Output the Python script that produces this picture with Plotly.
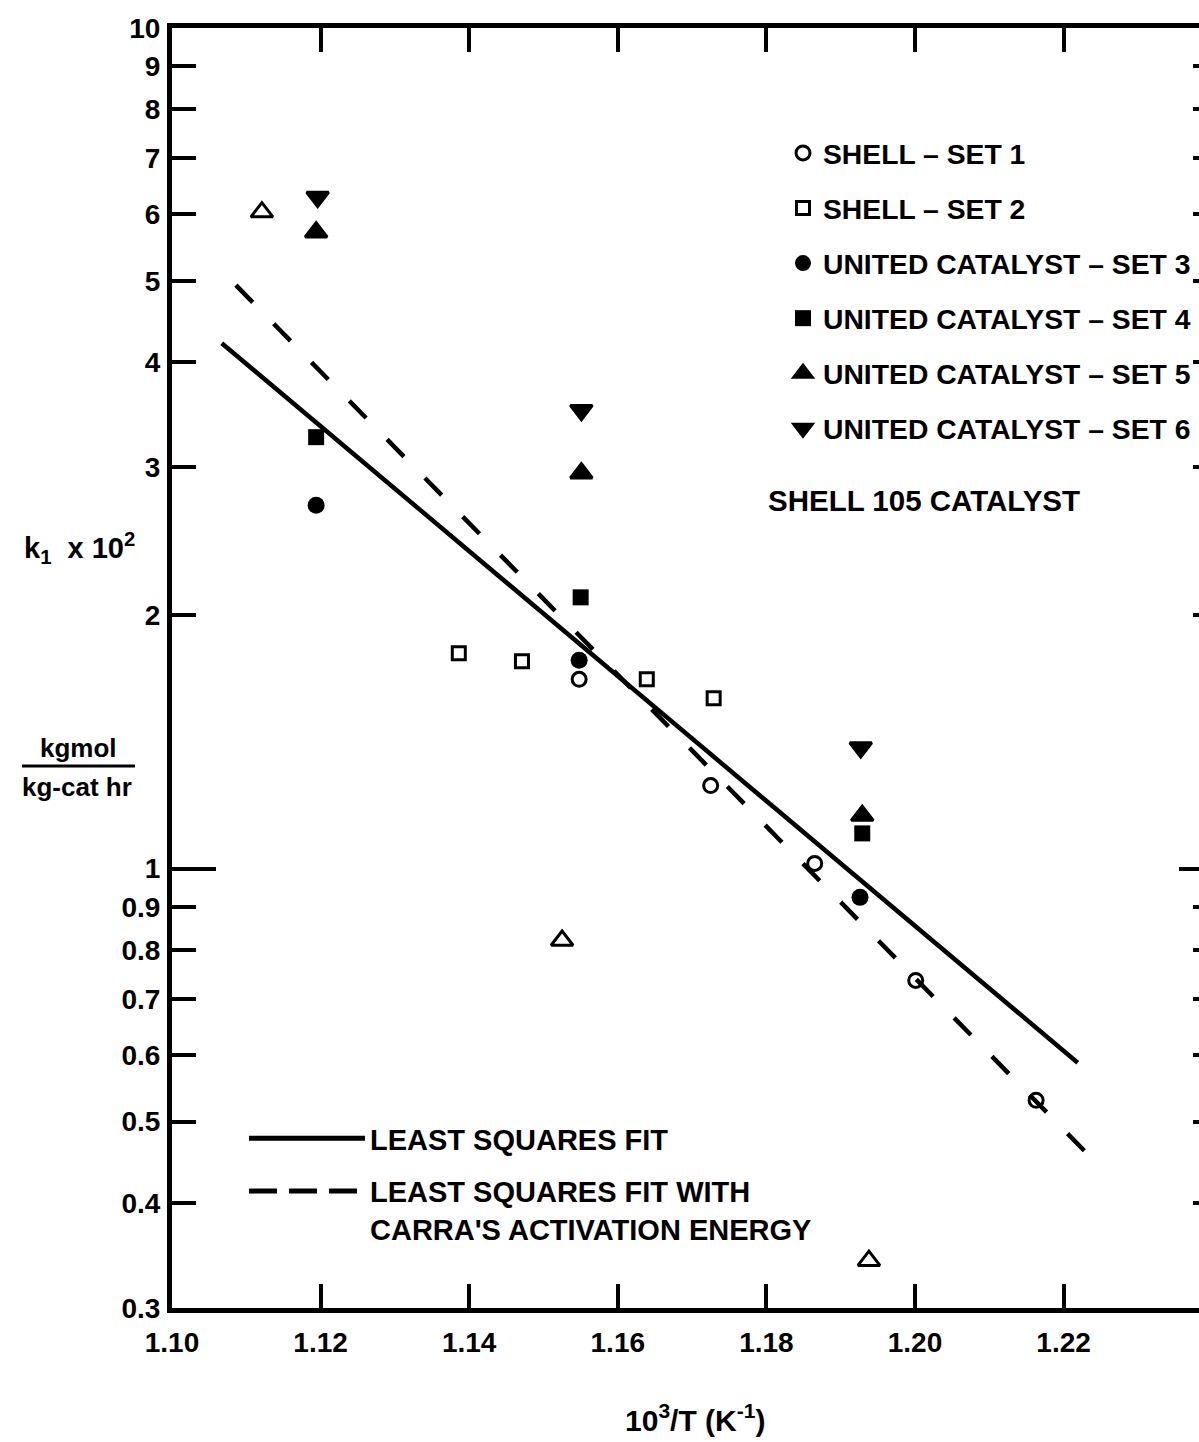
import numpy as np
import plotly.graph_objects as go

# 10^3/T (1/K) and k1 x 10^2 (kgmol / kg-cat hr) for each catalyst run
set1_x = [1.1548, 1.1725, 1.1865, 1.2001, 1.2163]
set1_k = [1.679, 1.255, 1.014, 0.736, 0.530]

set2_x = [1.1386, 1.1471, 1.1639, 1.1729]
set2_k = [1.803, 1.764, 1.679, 1.594]

set3_x = [1.1194, 1.1548, 1.1926]
set3_k = [2.705, 1.769, 0.924]

set4_x = [1.1194, 1.1550, 1.1929]
set4_k = [3.260, 2.102, 1.101]

set5_x = [1.1194, 1.1551, 1.1929]
set5_k = [5.716, 2.953, 1.156]

set6_x = [1.1196, 1.1551, 1.1927]
set6_k = [6.293, 3.510, 1.393]

shell105_x = [1.1121, 1.1525, 1.1938]
shell105_k = [6.039, 0.821, 0.3415]

# fitted Arrhenius lines (end points)
fit_x = [1.1067, 1.2219]
fit_k = [4.217, 0.5875]
carra_x = [1.1086, 1.2245]
carra_k = [4.943, 0.4455]

x_ticks = [1.10, 1.12, 1.14, 1.16, 1.18, 1.20, 1.22]
x_labels = ["1.10", "1.12", "1.14", "1.16", "1.18", "1.20", "1.22"]
y_ticks = [0.3, 0.4, 0.5, 0.6, 0.7, 0.8, 0.9, 1, 2, 3, 4, 5, 6, 7, 8, 9, 10]
y_labels = ["0.3", "0.4", "0.5", "0.6", "0.7", "0.8", "0.9", "1",
            "2", "3", "4", "5", "6", "7", "8", "9", "10"]

FONT = "Liberation Sans, Arial, sans-serif"
W, H = 1199, 1442
L, T, B = 172, 28, 1308          # plot box in page pixels
PW, PH = W - L, B - T


def px(x):
    return (x - L) / PW


def py(y):
    return (B - y) / PH


fig = go.Figure()

marker_sets = [
    (set1_x, set1_k, "SHELL – SET 1", dict(symbol="circle-open", size=14, color="black", line=dict(width=3, color="black"))),
    (set2_x, set2_k, "SHELL – SET 2", dict(symbol="square-open", size=13, color="black", line=dict(width=3, color="black"))),
    (set3_x, set3_k, "UNITED CATALYST – SET 3", dict(symbol="circle", size=17, color="black")),
    (set4_x, set4_k, "UNITED CATALYST – SET 4", dict(symbol="square", size=16, color="black")),
    (set5_x, set5_k, "UNITED CATALYST – SET 5", dict(symbol="triangle-up", size=19, color="black", line=dict(width=3, color="black"))),
    (set6_x, set6_k, "UNITED CATALYST – SET 6", dict(symbol="triangle-down", size=19, color="black", line=dict(width=3, color="black"))),
]
for i, (xs, ks, name, mk) in enumerate(marker_sets):
    fig.add_trace(go.Scatter(x=xs, y=ks, mode="markers", name=name, marker=mk,
                             legendgroup=f"g{i}", legend="legend"))

fig.add_trace(go.Scatter(x=shell105_x, y=shell105_k, mode="markers", name="SHELL 105 CATALYST",
                         marker=dict(symbol="triangle-up-open", size=19, color="black",
                                     line=dict(width=3, color="black")),
                         showlegend=False))

fig.add_trace(go.Scatter(x=fit_x, y=fit_k, mode="lines", name="LEAST SQUARES FIT",
                         line=dict(color="black", width=4.5), showlegend=False, legendgroup="fit"))
fig.add_trace(go.Scatter(x=carra_x, y=carra_k, mode="lines",
                         name="LEAST SQUARES FIT WITH<br>CARRA'S ACTIVATION ENERGY",
                         line=dict(color="black", width=4.5, dash="24px,30px"),
                         showlegend=False, legendgroup="carra"))

# legend entries for the two fitted lines
fig.add_trace(go.Scatter(x=[None], y=[None], mode="lines", name="LEAST SQUARES FIT",
                         line=dict(color="black", width=5), legend="legend2", legendgroup="fit"))
fig.add_trace(go.Scatter(x=[None], y=[None], mode="lines",
                         name="LEAST SQUARES FIT WITH<br>CARRA'S ACTIVATION ENERGY",
                         line=dict(color="black", width=5, dash="28px,12px"),
                         legend="legend2", legendgroup="carra"))

axis_common = dict(showgrid=False, zeroline=False, ticks="inside", tickcolor="black",
                   linecolor="black")

fig.update_layout(
    width=W, height=H,
    margin=dict(l=L, r=W - L - PW, t=T, b=H - B, pad=0),
    paper_bgcolor="white", plot_bgcolor="white",
    font=dict(family=FONT, color="black"),
    xaxis=dict(range=[1.10, 1.10 + PW / 7430], tickvals=x_ticks, ticktext=x_labels,
               ticklen=24, tickwidth=4, showline=True, linewidth=5, mirror="ticks",
               tickfont=dict(size=28, weight="bold"), ticklabelstandoff=5, **axis_common),
    yaxis=dict(type="log", range=[np.log10(0.3), 1], tickvals=y_ticks, ticktext=y_labels,
               ticklen=24, tickwidth=4, showline=True, linewidth=5, mirror=False,
               tickfont=dict(size=28, weight="bold"), ticklabelstandoff=1, **axis_common),
    # long tick at 1 on the left
    yaxis3=dict(type="log", range=[np.log10(0.3), 1], overlaying="y", anchor="x", side="left",
                tickvals=[1], ticklen=44, tickwidth=4, showticklabels=False, showline=False,
                **axis_common),
    # ticks on the right-hand frame
    yaxis2=dict(type="log", range=[np.log10(0.3), 1], overlaying="y", anchor="x", side="right",
                tickvals=[1], ticklen=20, tickwidth=4, showticklabels=False, showline=False,
                minor=dict(tickvals=[v for v in y_ticks if v != 1], ticklen=6, tickwidth=4,
                           ticks="inside", tickcolor="black", showgrid=False),
                **axis_common),
    legend=dict(x=px(783), y=py(128), xanchor="left", yanchor="top",
                bgcolor="rgba(0,0,0,0)", borderwidth=0, tracegroupgap=15.3,
                font=dict(size=28.3, weight="bold", family=FONT), itemsizing="trace"),
    legend2=dict(x=px(244), y=py(1113), xanchor="left", yanchor="top",
                 bgcolor="rgba(0,0,0,0)", borderwidth=0, tracegroupgap=12, itemwidth=116,
                 valign="top", font=dict(size=29, weight="bold", family=FONT)),
    showlegend=True,
)

# a hidden trace on each overlay axis so they get drawn
fig.add_trace(go.Scatter(x=[None], y=[None], yaxis="y2", showlegend=False, hoverinfo="skip"))
fig.add_trace(go.Scatter(x=[None], y=[None], yaxis="y3", showlegend=False, hoverinfo="skip"))

annotations = [
    dict(text="SHELL 105 CATALYST", x=px(766), y=py(500), xanchor="left", yanchor="middle",
         font=dict(size=29.5, weight="bold")),
    dict(text="k<sub>1</sub>  x 10<sup>2</sup>", x=px(22), y=py(548), xanchor="left", yanchor="middle",
         font=dict(size=29, weight="bold")),
    dict(text="kgmol", x=px(78), y=py(748), xanchor="center", yanchor="middle",
         font=dict(size=26, weight="bold")),
    dict(text="kg-cat hr", x=px(77), y=py(787), xanchor="center", yanchor="middle",
         font=dict(size=26, weight="bold")),
    dict(text="10<sup>3</sup>/T (K<sup>-1</sup>)", x=px(695), y=py(1418), xanchor="center",
         yanchor="middle", font=dict(size=30, weight="bold")),
]
for a in annotations:
    fig.add_annotation(xref="paper", yref="paper", showarrow=False, **a)

# fraction bar of the units label
fig.add_shape(type="line", xref="paper", yref="paper", x0=px(22), x1=px(135),
              y0=py(766), y1=py(766), line=dict(color="black", width=3))

fig.write_html("out.html")
